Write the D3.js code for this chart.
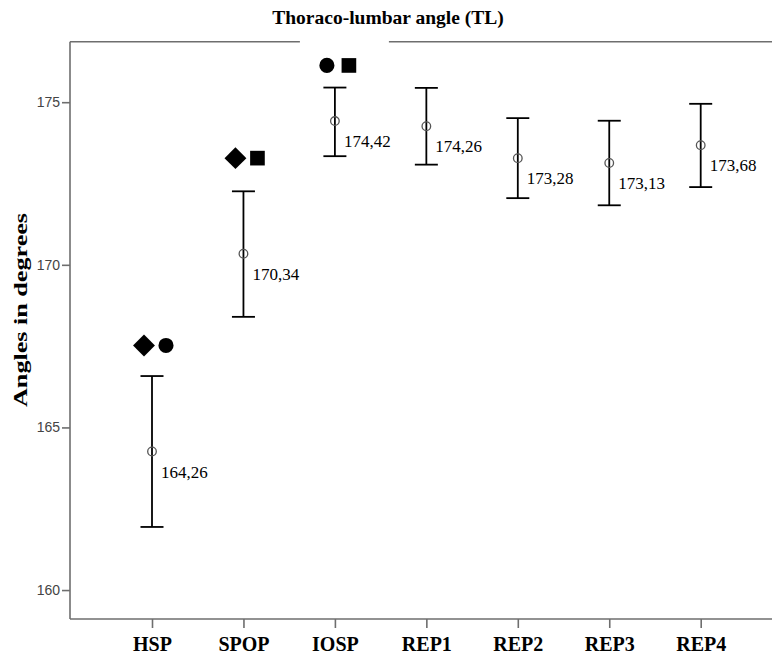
<!DOCTYPE html>
<html>
<head>
<meta charset="utf-8">
<script src="https://cdn.jsdelivr.net/npm/d3@7"></script>
<style>
  html, body { margin: 0; padding: 0; background: #fff; }
  svg { display: block; }
</style>
</head>
<body>
<svg id="chart" width="772" height="660"></svg>
<script>
// ---- data ----
const categories = ["HSP", "SPOP", "IOSP", "REP1", "REP2", "REP3", "REP4"];
const means = [164.26, 170.34, 174.42, 174.26, 173.28, 173.13, 173.68];
const lowerCI = [161.94, 168.40, 173.34, 173.08, 172.05, 171.83, 172.39];
const upperCI = [166.58, 172.26, 175.45, 175.44, 174.51, 174.43, 174.95];
const yTicks = [160, 165, 170, 175];
const markerSymbols = [["diamond", "circle"], ["diamond", "square"], ["circle", "square"], [], [], [], []];
const markerLevels = [167.52, 173.28, 176.13, null, null, null, null];
const titleText = "Thoraco-lumbar angle (TL)";
const yTitle = "Angles in degrees";

// ---- layout ----
const plotLeft = 70, plotTop = 41.7, plotBottom = 619, plotRight = 772;
const svg = d3.select("#chart");

const y = d3.scaleLinear().domain([159.11, 176.86]).range([plotBottom, plotTop]);
const x = d3.scalePoint().domain(categories).range([152, 700.7]);

const locale = d3.formatLocale({decimal: ",", thousands: ".", grouping: [3], currency: ["", ""]});
const fmt = locale.format(".2f");

const data = categories.map((c, i) => ({
  cat: c, mean: means[i], lo: lowerCI[i], hi: upperCI[i],
  symbols: markerSymbols[i], level: markerLevels[i]
}));

// title
svg.append("text")
  .attr("x", 388).attr("y", 24)
  .attr("text-anchor", "middle")
  .style("font-family", "'Liberation Serif', 'Times New Roman', serif")
  .style("font-weight", "bold")
  .style("font-size", "19.5px")
  .attr("fill", "#000")
  .text(titleText);

// frame
const frameColor = "#6e6e6e";
svg.append("line").attr("x1", plotLeft).attr("x2", plotRight).attr("y1", plotTop).attr("y2", plotTop)
  .attr("stroke", frameColor).attr("stroke-width", 1.6);
svg.append("line").attr("x1", plotLeft).attr("x2", plotLeft).attr("y1", plotTop).attr("y2", plotBottom)
  .attr("stroke", frameColor).attr("stroke-width", 1.6);
svg.append("line").attr("x1", plotLeft).attr("x2", plotRight).attr("y1", plotBottom).attr("y2", plotBottom)
  .attr("stroke", frameColor).attr("stroke-width", 1.6);

// y axis
const yAxis = svg.append("g").attr("transform", `translate(${plotLeft},0)`)
  .call(d3.axisLeft(y).tickValues(yTicks).tickSize(8).tickPadding(2).tickFormat(d3.format("d")));
yAxis.select(".domain").remove();
yAxis.selectAll(".tick line").attr("stroke", frameColor).attr("stroke-width", 1.6);
yAxis.selectAll(".tick text")
  .style("font-family", "'Liberation Sans', Arial, sans-serif")
  .style("font-size", "14px")
  .attr("fill", "#444");

// x axis
const xAxis = svg.append("g").attr("transform", `translate(0,${plotBottom})`)
  .call(d3.axisBottom(x).tickSize(9).tickPadding(9));
xAxis.select(".domain").remove();
xAxis.selectAll(".tick line").attr("stroke", frameColor).attr("stroke-width", 1.6);
xAxis.selectAll(".tick text")
  .style("font-family", "'Liberation Serif', 'Times New Roman', serif")
  .style("font-weight", "bold")
  .style("font-size", "20px")
  .attr("fill", "#000");

// y title
svg.append("text")
  .attr("transform", `translate(27,${310}) rotate(-90)`)
  .attr("text-anchor", "middle")
  .style("font-family", "'Liberation Serif', 'Times New Roman', serif")
  .style("font-weight", "bold")
  .style("font-size", "19px")
  .attr("textLength", 194)
  .attr("lengthAdjust", "spacingAndGlyphs")
  .attr("fill", "#000")
  .text(yTitle);

// significance markers
const symType = {diamond: d3.symbolSquare, circle: d3.symbolCircle, square: d3.symbolSquare};
const symSize = {diamond: 240, circle: 180, square: 215};
const symRot = {diamond: 45, circle: 0, square: 0};
const markerOffsets = [-8, 14];

// white box behind top marker that interrupts the frame
data.filter(d => d.level !== null && y(d.level) < plotTop + 30).forEach(d => {
  svg.append("rect")
    .attr("x", x(d.cat) - 35).attr("y", plotTop - 3)
    .attr("width", 89).attr("height", 38)
    .attr("fill", "#fff");
});

data.forEach(d => {
  if (d.level === null) return;
  d.symbols.forEach((s, j) => {
    svg.append("path")
      .attr("d", d3.symbol().type(symType[s]).size(symSize[s])())
      .attr("transform", `translate(${x(d.cat) + markerOffsets[j]},${y(d.level)}) rotate(${symRot[s]})`)
      .attr("fill", "#000");
  });
});

// error bars
const cap = 11.5;
const g = svg.append("g");
const bars = g.selectAll("g.bar").data(data).join("g").attr("class", "bar");
bars.append("line")
  .attr("x1", d => x(d.cat)).attr("x2", d => x(d.cat))
  .attr("y1", d => y(d.hi)).attr("y2", d => y(d.lo))
  .attr("stroke", "#000").attr("stroke-width", 1.8);
bars.append("line")
  .attr("x1", d => x(d.cat) - cap).attr("x2", d => x(d.cat) + cap)
  .attr("y1", d => y(d.hi)).attr("y2", d => y(d.hi))
  .attr("stroke", "#000").attr("stroke-width", 1.8);
bars.append("line")
  .attr("x1", d => x(d.cat) - cap).attr("x2", d => x(d.cat) + cap)
  .attr("y1", d => y(d.lo)).attr("y2", d => y(d.lo))
  .attr("stroke", "#000").attr("stroke-width", 1.8);
bars.append("circle")
  .attr("cx", d => x(d.cat)).attr("cy", d => y(d.mean))
  .attr("r", 4.3)
  .attr("fill", "none")
  .attr("stroke", "#555").attr("stroke-width", 1.3);
bars.append("text")
  .attr("x", d => x(d.cat) + 9)
  .attr("y", d => y(d.mean) + 26)
  .style("font-family", "'Liberation Serif', 'Times New Roman', serif")
  .style("font-size", "17px")
  .attr("fill", "#000")
  .text(d => fmt(d.mean));
</script>
</body>
</html>
